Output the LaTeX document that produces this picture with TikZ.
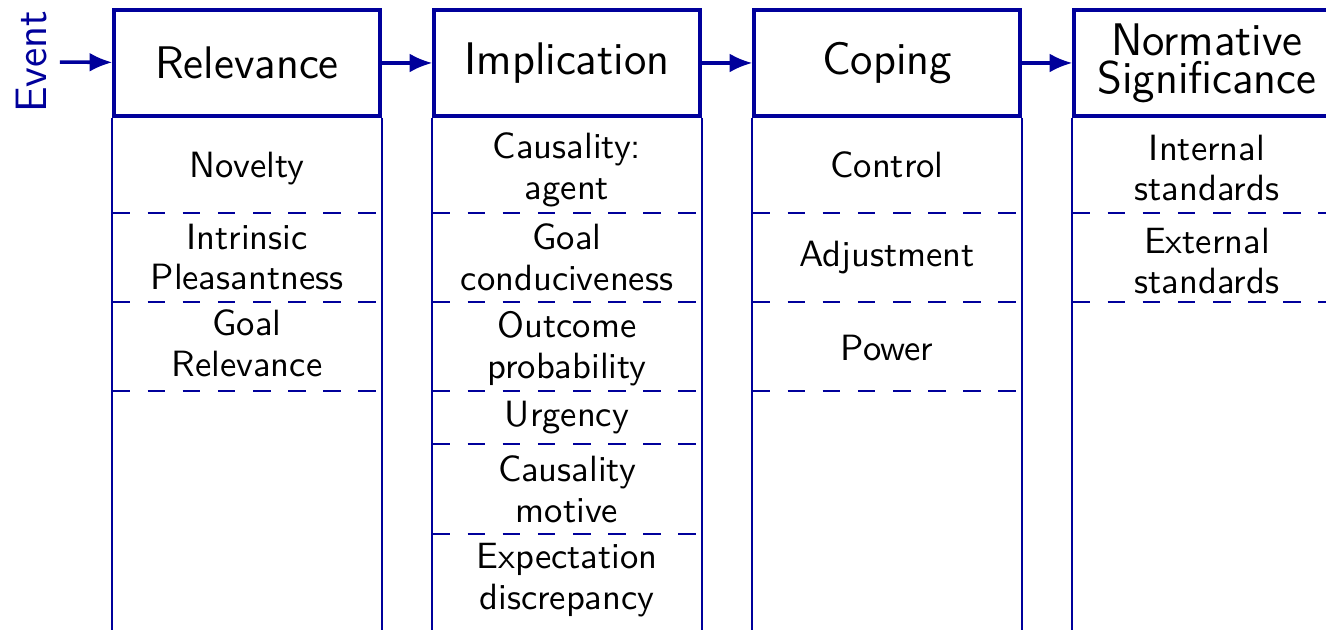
\documentclass[tikz,border=0pt]{standalone}
\usepackage{tikz}
\usetikzlibrary{arrows.meta}
\definecolor{checkblue}{RGB}{0,0,155}

\begin{document}
\begin{tikzpicture}
  \tikzset{stage/.style = {draw=checkblue,line width=0.9pt,minimum width=2.66cm,minimum height=1.06cm,align=center,inner sep=1pt,font=\sffamily\fontsize{13}{13}\selectfont}}
  \tikzset{check/.style = {align=center,inner sep=1pt,font=\sffamily\fontsize{10.4}{11.6}\selectfont}}
  \tikzset{flow/.style = {draw=checkblue,line width=1pt,-{Latex[length=6.5pt,width=5.4pt]}}}
  \tikzset{rule/.style = {draw=checkblue,line width=0.6pt}}
  \tikzset{split/.style = {rule,dash pattern=on 5pt off 5pt}}

  \useasboundingbox (0,0) rectangle (13.26,6.3);

	\node[rotate=90,text=checkblue,font=\sffamily\fontsize{12.5}{12.5}\selectfont] (event) at (0.32,5.68) {Event};
	\node[stage] (rel) at (2.47,5.67) {Relevance};
	\node[stage] (imp) at (5.67,5.67) {Implication};
	\node[stage] (cop) at (8.87,5.67) {Coping};
	\node[stage,font=\sffamily\fontsize{13}{10.8}\selectfont] (nor) at (12.07,5.67) {Normative\\Significance};

	\node[check] (nov) at (2.47,4.61) {Novelty};
	\node[check] (ipl) at (2.47,3.73) {Intrinsic\\Pleasantness};
	\node[check] (grel) at (2.47,2.87) {Goal\\Relevance};

	\node[check] (cag) at (5.67,4.60) {Causality:\\agent};
	\node[check] (gcon) at (5.67,3.73) {Goal\\conduciveness};
	\node[check] (oprob) at (5.67,2.81) {Outcome\\probability};
	\node[check] (urg) at (5.67,2.12) {Urgency};
	\node[check] (cmot) at (5.67,1.41) {Causality\\motive};
	\node[check] (edis) at (5.67,0.50) {Expectation\\discrepancy};

	\node[check] (ctrl) at (8.87,4.65) {Control};
	\node[check] (adj) at (8.87,3.72) {Adjustment};
	\node[check] (pow) at (8.87,2.82) {Power};

	\node[check] (istd) at (12.07,4.62) {Internal\\standards};
	\node[check] (estd) at (12.07,3.69) {External\\standards};

    \foreach \col in {rel,imp,cop,nor}
    \draw[rule] (\col.south west) -- ++(0,-5.3) (\col.south east) -- ++(0,-5.3);

    \foreach \col/\ys in {rel/{4.17,3.28,2.39}, imp/{4.17,3.28,2.39,1.86,0.96}, cop/{4.17,3.28,2.39}, nor/{4.17,3.28}}
    \foreach \y in \ys
    \draw[split] (\col.west |- 0,\y) -- (\col.east |- 0,\y);

    \foreach \from/\to in {event/rel, rel/imp, imp/cop, cop/nor}
    \draw[flow] (\from) -- (\to);
\end{tikzpicture}
\end{document}
